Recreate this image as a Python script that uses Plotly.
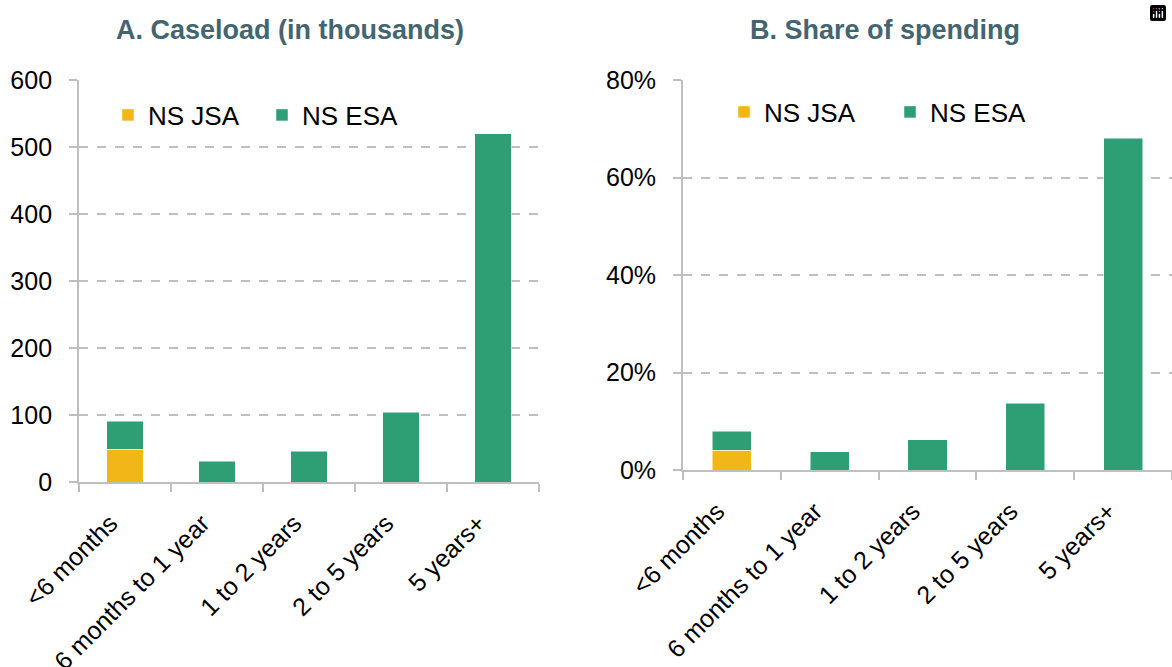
import plotly.graph_objects as go

categories = ["<6 months", "6 months to 1 year", "1 to 2 years", "2 to 5 years", "5 years+"]
caseload_jsa = [49, 0, 0, 0, 0]
caseload_esa = [42, 31, 46, 104, 520]
spend_jsa = [0.041, 0, 0, 0, 0]
spend_esa = [0.039, 0.037, 0.062, 0.137, 0.681]

JSA_COLOR = "#F2B619"
ESA_COLOR = "#2E9E74"
GRID = "#BFBFBF"
TITLE_COLOR = "#436570"
FONT = "Liberation Sans, Arial, sans-serif"

W, H = 1172, 667

# trailing non-breaking spaces push the rotated labels down/left a little
label_text = [c + "\u00a0\u00a0\u00a0" for c in categories]

fig = go.Figure()

bar_line = dict(color="white", width=0.5)
fig.add_trace(go.Bar(x=categories, y=caseload_jsa, name="NS JSA", marker=dict(color=JSA_COLOR, line=bar_line),
                     width=0.4, xaxis="x", yaxis="y", legend="legend"))
fig.add_trace(go.Bar(x=categories, y=caseload_esa, name="NS ESA", marker=dict(color=ESA_COLOR, line=bar_line),
                     width=0.4, xaxis="x", yaxis="y", legend="legend"))
fig.add_trace(go.Bar(x=categories, y=spend_jsa, name="NS JSA", marker=dict(color=JSA_COLOR, line=bar_line),
                     width=0.4, xaxis="x2", yaxis="y2", legend="legend2"))
fig.add_trace(go.Bar(x=categories, y=spend_esa, name="NS ESA", marker=dict(color=ESA_COLOR, line=bar_line),
                     width=0.4, xaxis="x2", yaxis="y2", legend="legend2"))

def px_x(p):
    return p / W

def px_y(p):
    return 1 - p / H

xcommon = dict(type="category", showline=True, linecolor=GRID, linewidth=2, ticks="outside", tickson="boundaries",
               ticklen=8, tickwidth=2, tickcolor=GRID, tickangle=-45, showgrid=False, automargin=False,
               tickmode="array", tickvals=categories, ticktext=label_text,
               tickfont=dict(size=25, color="black", family=FONT), fixedrange=True)
ycommon = dict(showline=True, linecolor=GRID, linewidth=2, ticks="outside", ticklen=8, tickwidth=2, tickcolor=GRID,
               showgrid=True, gridcolor=GRID, gridwidth=1.5, griddash="dash", zeroline=False, automargin=False,
               ticksuffix="\u00a0\u2009", tickfont=dict(size=25, color="black", family=FONT), fixedrange=True)

fig.update_layout(
    width=W, height=H,
    margin=dict(l=0, r=0, t=0, b=0, autoexpand=False),
    paper_bgcolor="white", plot_bgcolor="white",
    barmode="stack",
    font=dict(family=FONT, color="black"),
    modebar=dict(bgcolor="rgba(0,0,0,0)", color="rgba(0,0,0,0)", activecolor="rgba(0,0,0,0)"),
    xaxis=dict(domain=[px_x(79), px_x(539)], anchor="y", **xcommon),
    yaxis=dict(domain=[px_y(482), px_y(80)], anchor="x", range=[0, 600], dtick=100, **ycommon),
    xaxis2=dict(domain=[px_x(683), 1.0], anchor="y2", **xcommon),
    yaxis2=dict(domain=[px_y(470), px_y(80)], anchor="x2", range=[0, 0.8], dtick=0.2, tickformat=".0%", **ycommon),
    legend=dict(orientation="h", x=px_x(108), y=px_y(115), xanchor="left", yanchor="middle",
                entrywidth=109, font=dict(size=26, color="black", family=FONT), bgcolor="rgba(0,0,0,0)",
                traceorder="normal"),
    legend2=dict(orientation="h", x=px_x(724), y=px_y(112), xanchor="left", yanchor="middle",
                 entrywidth=121, font=dict(size=26, color="black", family=FONT), bgcolor="rgba(0,0,0,0)",
                 traceorder="normal"),
    annotations=[
        dict(text="<b>A. Caseload (in thousands)</b>", x=px_x(290), y=px_y(30), xref="paper", yref="paper",
             xanchor="center", yanchor="middle", showarrow=False, font=dict(size=27, color=TITLE_COLOR, family=FONT)),
        dict(text="<b>B. Share of spending</b>", x=px_x(885), y=px_y(30), xref="paper", yref="paper",
             xanchor="center", yanchor="middle", showarrow=False, font=dict(size=27, color=TITLE_COLOR, family=FONT)),
    ],
)

fig.write_html("out.html",
               post_script="document.body.style.margin='0';document.body.style.padding='0';")
